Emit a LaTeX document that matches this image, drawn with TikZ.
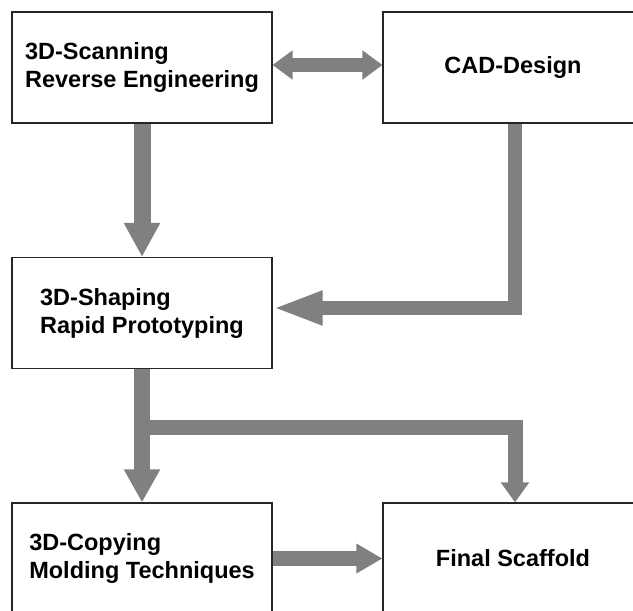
\documentclass[tikz,border=0pt]{standalone}
\usepackage{fontspec}
\setmainfont{Liberation Sans}
\usetikzlibrary{arrows.meta,calc}
\begin{document}
\begin{tikzpicture}[x=1pt,y=-1pt,
  box/.style={draw=black!85, line width=1.1pt, fill=white,
    minimum width=260pt, minimum height=111pt, inner sep=0pt,
    align=left, font=\bfseries\fontsize{23.5}{28}\selectfont},
  flow/.style={draw=gray, line width=15pt, line join=miter}
]
\useasboundingbox (0,0) rectangle (633,611);
\clip (0,0) rectangle (633,611);

% process boxes
\node[box] (scan)  at (142,67.5)  {3D-Scanning\\Reverse Engineering};
\node[box] (cad)   at (513,67.5)  {CAD-Design};
\node[box] (shape) at (142,313)   {3D-Shaping\\Rapid Prototyping};
\node[box] (copy)  at (142,558.5) {3D-Copying\\Molding Techniques};
\node[box] (final) at (513,558.5) {Final Scaffold};

% block arrows
\draw[flow, line width=14pt,
  {Triangle[length=20pt,width=28pt]}-{Triangle[length=20pt,width=28pt]}]
  ($(scan.east)+(0,-2.5)$) -- ($(cad.west)+(0,-2.5)$);
\draw[flow, line width=17pt, -{Triangle[length=34pt,width=34pt]}]
  (scan.south) -- (shape.north);
\draw[flow, line width=14pt, -{Triangle[length=50pt,width=31pt]}]
  ($(cad.south)+(2,0)$) |- ($(shape.east)+(0,-5)$);
\draw[flow, line width=16pt, -{Triangle[length=33pt,width=34pt]}]
  (shape.south) -- (copy.north);
\coordinate (fork) at ($(shape.south)+(0,58.5)$);
\draw[flow, line width=15pt, -{Triangle[length=20pt,width=27pt]}]
  (fork) -| ($(final.north)+(2,0)$);
\draw[flow, line width=15pt, -{Triangle[length=26pt,width=28pt]}]
  (copy.east) -- (final.west);
\end{tikzpicture}
\end{document}
